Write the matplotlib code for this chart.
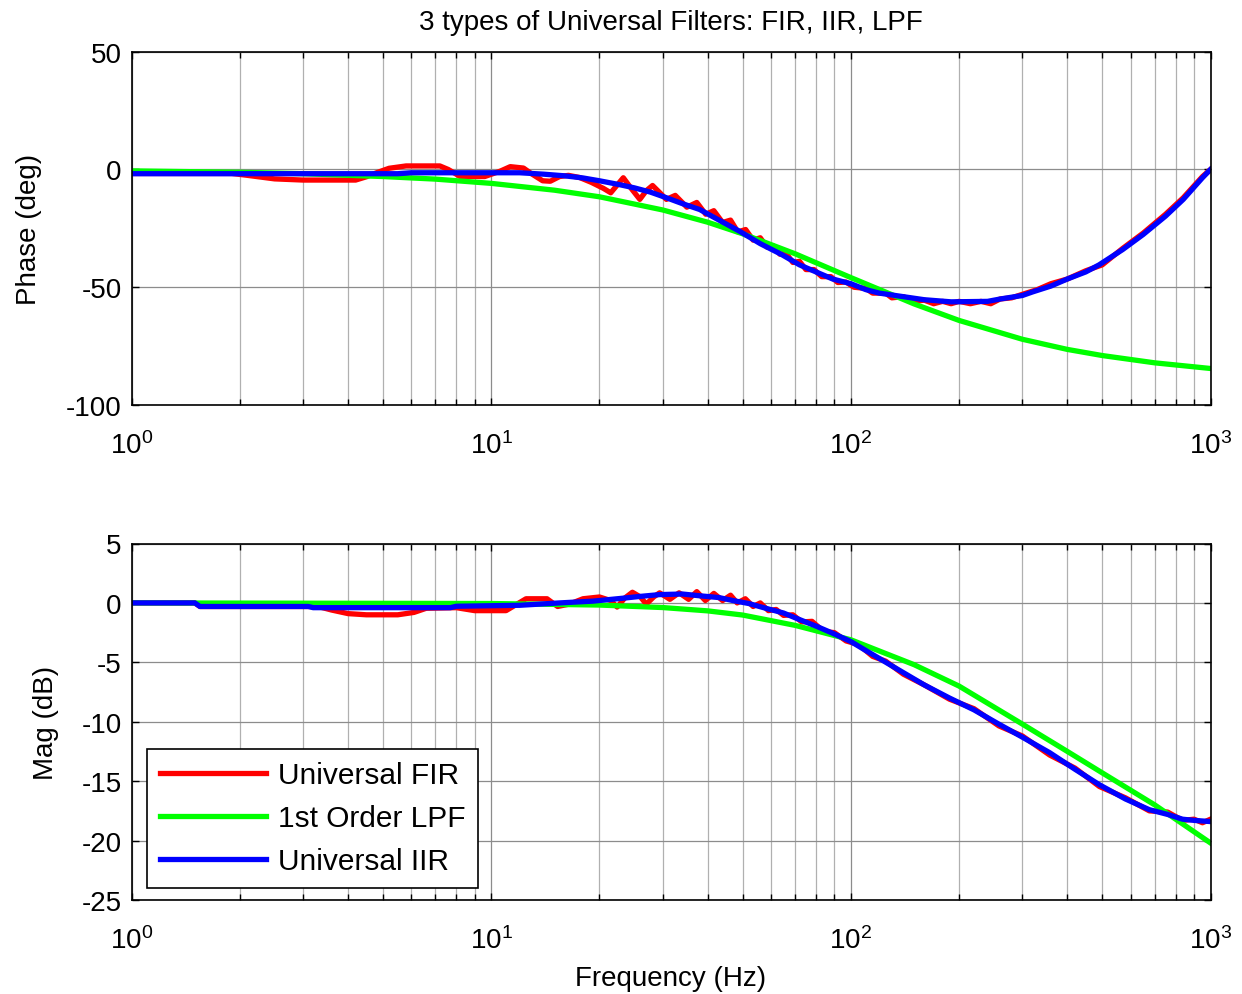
import matplotlib
matplotlib.use('Agg')
import matplotlib.pyplot as plt
from matplotlib.ticker import LogLocator, FixedLocator, FixedFormatter, NullFormatter

plt.rcParams['font.family'] = ['Liberation Sans', 'DejaVu Sans']
plt.rcParams['mathtext.fontset'] = 'custom'
plt.rcParams['mathtext.rm'] = 'Liberation Sans'
plt.rcParams['mathtext.it'] = 'Liberation Sans:italic'
plt.rcParams['mathtext.bf'] = 'Liberation Sans:bold'
plt.rcParams['axes.unicode_minus'] = False

# ---------------- data ----------------
title = "3 types of Universal Filters: FIR, IIR, LPF"
series_labels = ["Universal FIR", "1st Order LPF", "Universal IIR"]
x_ticks = [1, 10, 100, 1000]
x_tick_labels = [r'$10^{0}$', r'$10^{1}$', r'$10^{2}$', r'$10^{3}$']
phase_ticks = [-100, -50, 0, 50]
mag_ticks = [-25, -20, -15, -10, -5, 0, 5]

# Phase (deg)
phase_fir_f = [1, 1.9, 2.1, 2.5, 3.0, 4.2, 4.5, 4.8, 5.2, 5.8, 7.2, 7.6, 8.2, 9.6, 10.6, 11.3, 12.3, 13.0, 13.9, 14.6,
               15.5, 16.4, 17.6, 19.0, 20.5, 21.5, 23.3, 24.5, 25.9, 27.0, 28.1, 29.5, 30.7, 32.5, 35, 37.3, 39.5, 41.6, 44, 46.3,
               48.5, 51, 53.5, 56, 58.5, 61, 63.5, 66, 69, 72, 75, 79, 83, 88, 92, 97, 102, 110, 115, 125,
               130, 140, 150, 160, 170, 180, 190, 200, 215, 230, 245, 260, 280, 300, 330, 360, 400, 450, 500, 570,
               650, 750, 840, 950, 1000]
phase_fir = [-1.7, -1.7, -2.5, -4.0, -4.5, -4.5, -3.1, -1.4, 0.5, 1.5, 1.5, 0.0, -3.0, -3.0, -0.7, 1.2, 0.6, -2.0, -4.8, -5.0,
             -3.0, -2.5, -3.4, -5.5, -8.0, -9.9, -3.5, -8.0, -12.7, -9.0, -6.8, -10.0, -12.7, -11.0, -16.0, -14.0, -19.0, -17.5, -22.5, -21.5,
             -26.5, -25.5, -30.0, -29.0, -33.0, -32.5, -36.0, -35.5, -39.5, -39.0, -42.5, -42.5, -45.5, -45.5, -48.0, -47.8, -50.0, -50.5, -52.5, -52.5,
             -54.5, -54.0, -56.0, -55.5, -57.0, -56.0, -57.0, -56.0, -57.0, -56.0, -57.0, -55.0, -54.5, -53.0, -51.0, -48.5, -46.5, -43.0, -40.5, -33.5,
             -27.0, -19.0, -12.0, -3.0, 0.0]

phase_lpf_f = [1, 2, 3, 5, 7, 10, 15, 20, 30, 40, 50, 70, 100, 150, 200, 300, 400, 500, 700, 1000]
phase_lpf = [-0.6, -1.2, -1.8, -3.0, -4.1, -5.9, -8.8, -11.6, -17.2, -22.4, -27.3, -35.8, -45.9, -57.1, -64.1,
             -72.1, -76.4, -79.0, -82.1, -84.5]

phase_iir_f = [1, 5.5, 6, 12, 14, 16, 18, 20, 22.5, 25, 27.7, 30.7, 34, 38, 43, 49, 56, 64, 72, 80,
               89, 100, 110, 120, 137, 160, 190, 240, 260, 300, 320, 360, 400, 450, 490, 570, 650, 750, 840, 950, 1000]
phase_iir = [-1.8, -1.8, -1.4, -1.4, -2.0, -2.7, -3.6, -4.8, -6.3, -7.8, -9.6, -12.0, -14.5, -17.0, -21.5, -26.2, -31.5, -36.0, -40.5, -43.5,
             -46.5, -48.5, -51.0, -52.5, -53.8, -55.3, -56.2, -56.0, -55.0, -53.5, -52.0, -49.5, -46.5, -43.5, -40.5, -34.0, -27.6, -19.8, -12.7, -3.5, 0.0]

# Magnitude (dB)
mag_fir_f = [1, 1.5, 1.55, 3.3, 3.6, 4.0, 4.5, 5.5, 6.1, 6.6, 8.0, 9.0, 11.0, 11.8, 12.5, 14.3, 15.3, 16.5, 18.0, 20.0,
             21.5, 22.4, 23.5, 24.7, 26.0, 27.0, 28.3, 29.4, 31.4, 33.3, 35.4, 37.3, 39.4, 41.6, 44.0, 46.3, 48.3, 50.9, 53.5, 56,
             59, 62, 65, 69, 73, 78, 84, 90, 97, 105, 115, 125, 140, 160, 188, 220, 258, 300, 357, 420,
             491, 580, 676, 760, 836, 900, 950, 1000]
mag_fir = [0.0, 0.0, -0.3, -0.3, -0.6, -0.9, -1.0, -1.0, -0.8, -0.45, -0.4, -0.65, -0.65, -0.1, 0.35, 0.35, -0.3, -0.1, 0.35, 0.5,
           0.2, -0.35, 0.4, 0.9, 0.5, -0.1, 0.5, 0.85, 0.3, 0.85, 0.3, 0.95, 0.2, 0.8, 0.2, 0.65, 0.0, 0.35, -0.3, 0.0,
           -0.65, -0.55, -1.05, -1.0, -1.6, -1.55, -2.4, -2.5, -3.2, -3.5, -4.5, -4.9, -6.0, -6.9, -8.1, -8.9, -10.35, -11.2, -12.8, -13.9,
           -15.45, -16.4, -17.5, -17.6, -18.3, -18.2, -18.5, -18.2]

mag_lpf_f = [1, 10, 20, 30, 40, 50, 70, 100, 150, 200, 300, 400, 500, 700, 1000]
mag_lpf = [0.0, -0.05, -0.18, -0.39, -0.67, -1.02, -1.89, -3.1, -5.2, -7.0, -10.2, -12.5, -14.3, -17.0, -20.2]

mag_iir_f = [1, 1.5, 1.55, 3.1, 3.2, 7.7, 8.0, 12, 15.5, 19.2, 23.3, 26, 29.4, 34, 38, 43, 47, 52, 58, 65,
             72, 80, 89, 100, 110, 137, 160, 188, 220, 258, 300, 357, 420, 491, 580, 676, 760, 836, 900, 1000]
mag_iir = [0.0, 0.0, -0.3, -0.3, -0.4, -0.4, -0.28, -0.2, 0.0, 0.15, 0.4, 0.55, 0.7, 0.75, 0.6, 0.45, 0.2, -0.05, -0.45, -0.85,
           -1.4, -1.95, -2.55, -3.25, -4.0, -5.7, -6.9, -8.0, -9.0, -10.2, -11.3, -12.6, -14.0, -15.3, -16.5, -17.4, -17.8, -18.2, -18.3, -18.4]

colors = ['#ff0000', '#00ff00', '#0000ff']

# ---------------- figure ----------------
W, H = 1242, 995
fig = plt.figure(figsize=(W / 100, H / 100), dpi=100)
ax1 = fig.add_axes([131.5 / W, 1 - 406 / H, 1079 / W, 353.3 / H])
ax2 = fig.add_axes([131.5 / W, 1 - 901 / H, 1079 / W, 356.5 / H])

FS = 20
LW = 3.8


def style(ax, yticks, ylim):
    ax.set_xscale('log')
    ax.set_xlim(1, 1000)
    ax.set_ylim(*ylim)
    ax.xaxis.set_major_locator(FixedLocator(x_ticks))
    ax.xaxis.set_major_formatter(FixedFormatter(x_tick_labels))
    ax.xaxis.set_minor_locator(LogLocator(base=10, subs=range(2, 10)))
    ax.xaxis.set_minor_formatter(NullFormatter())
    ax.yaxis.set_major_locator(FixedLocator(yticks))
    ax.grid(True, which='major', color='#8c8c8c', lw=0.9)
    ax.grid(True, which='minor', axis='x', color='#b0b0b0', lw=0.9)
    ax.set_axisbelow(True)
    ax.tick_params(which='both', direction='in', top=True, right=True, width=1.0, colors='black')
    ax.tick_params(which='major', length=5, labelsize=FS)
    ax.tick_params(which='minor', length=4)
    ax.tick_params(axis='x', which='major', pad=19)
    ax.tick_params(axis='y', which='major', pad=7)
    for s in ax.spines.values():
        s.set_linewidth(1.2)
        s.set_color('black')


style(ax1, phase_ticks, (-100, 50))
style(ax2, mag_ticks, (-25, 5))

ax1.plot(phase_fir_f, phase_fir, color=colors[0], lw=LW, label=series_labels[0])
ax1.plot(phase_lpf_f, phase_lpf, color=colors[1], lw=LW, label=series_labels[1])
ax1.plot(phase_iir_f, phase_iir, color=colors[2], lw=LW, label=series_labels[2])

ax2.plot(mag_fir_f, mag_fir, color=colors[0], lw=LW, label=series_labels[0])
ax2.plot(mag_lpf_f, mag_lpf, color=colors[1], lw=LW, label=series_labels[1])
ax2.plot(mag_iir_f, mag_iir, color=colors[2], lw=LW, label=series_labels[2])

ax1.set_title(title, fontsize=FS, pad=16)
ax1.set_ylabel('Phase (deg)', fontsize=FS, labelpad=17)
ax2.set_ylabel('Mag (dB)', fontsize=FS, labelpad=16)
ax2.set_xlabel('Frequency (Hz)', fontsize=FS, labelpad=8)

leg = ax2.legend(loc='lower left', bbox_to_anchor=(0.0144, 0.034), borderaxespad=0,
                 fontsize=21.5, handlelength=3.55, handletextpad=0.42, labelspacing=0.5,
                 borderpad=0.42, frameon=True, fancybox=False, edgecolor='black', framealpha=1)
leg.get_frame().set_linewidth(1.2)

fig.savefig('out.png', dpi=100)
